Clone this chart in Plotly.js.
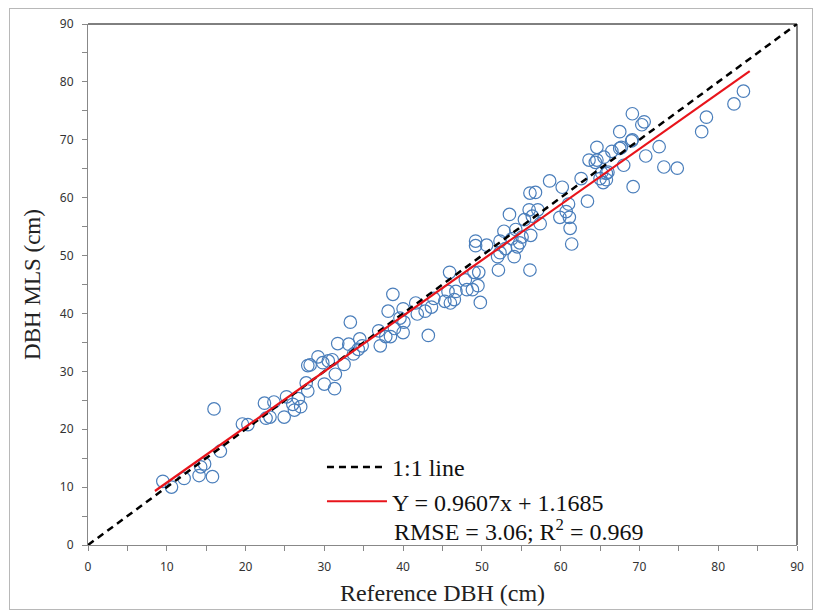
<!DOCTYPE html>
<html><head><meta charset="utf-8">
<script src="https://cdn.plot.ly/plotly-3.0.1.min.js"></script>
<style>
body{margin:0;background:#fff}
#frame{position:absolute;left:9px;top:8px;width:802px;height:600px;border:1px solid #b8b8b8}
#chart{position:absolute;left:0;top:0;width:814px;height:611px}
</style>
</head><body><div id="frame"></div><div id="chart"></div>
<script>
// Reference DBH (cm)
const refDBH = [9.5,10.6,12.2,14.1,14.8,14.3,15.8,16.0,16.8,19.6,20.3,22.4,22.6,23.1,23.6,24.9,25.2,26.0,26.2,27.0,26.7,27.7,27.9,27.9,28.2,29.2,29.8,30.0,30.5,31.0,31.3,31.4,31.7,32.5,33.3,33.1,33.7,34.3,34.5,34.8,36.9,37.1,37.8,38.1,38.4,38.7,38.9,39.6,40.0,40.0,40.1,41.6,41.8,42.8,43.2,43.6,43.9,45.3,45.7,45.9,46.0,46.5,46.7,47.9,48.1,48.8,49.0,49.2,49.2,49.5,49.6,49.8,50.6,52.1,52.0,52.3,52.3,52.8,53.0,53.5,53.8,54.1,54.3,54.5,54.8,55.1,55.4,56.0,56.1,56.1,56.2,56.4,56.8,57.1,57.4,58.6,60.2,59.9,60.7,61.1,61.0,61.2,61.4,62.6,63.4,63.6,64.4,64.6,65.2,65.4,65.5,65.8,66.0,66.5,67.5,67.7,68.0,69.1,69.1,69.2,70.3,70.6,70.8,72.5,73.1,74.8,77.9,78.5,82.0,83.2,64.6,65.0,65.8,67.5,69.0];
// DBH MLS (cm)
const mlsDBH = [11.0,10.0,11.5,12.0,14.0,13.5,11.8,23.5,16.2,20.9,20.8,24.5,21.9,22.1,24.7,22.1,25.6,24.3,23.3,23.9,25.3,28.0,26.6,31.0,31.1,32.5,31.5,27.8,31.8,32.0,27.0,29.5,34.8,31.2,38.5,34.7,33.0,33.8,35.6,34.4,37.0,34.4,36.0,40.4,36.0,43.3,37.4,39.2,40.8,36.7,38.5,41.8,39.9,40.4,36.2,41.1,42.6,42.1,43.8,47.1,41.8,42.4,43.8,45.8,44.1,44.1,47.1,52.5,51.7,44.8,47.1,41.9,51.8,47.5,49.8,50.5,52.5,54.2,51.2,57.1,52.9,49.8,54.5,51.5,52.2,53.2,56.2,57.9,47.5,60.8,53.5,56.8,60.9,57.9,55.5,62.9,61.8,56.6,57.6,56.6,58.9,54.7,52.0,63.3,59.4,66.5,66.1,68.7,64.3,62.6,67.0,63.1,64.4,68.0,71.4,68.7,65.6,74.5,70.0,61.9,72.6,73.1,67.2,68.8,65.3,65.1,71.4,73.9,76.2,78.4,66.5,63.3,64.2,68.5,69.8];
// 1:1 line
const oneX = [0, 90];
const oneY = [0, 90];
// fitted line Y = 0.9607x + 1.1685
const fitX = [8.5, 84.0];
const fitY = [9.33, 81.87];
const names = ['1:1 line', 'Y = 0.9607x + 1.1685'];
const statsText = 'RMSE = 3.06; R<sup>2</sup> = 0.969';
const xTitle = 'Reference DBH (cm)';
const yTitle = 'DBH MLS (cm)';

const serif = 'Liberation Serif, Times New Roman, serif';
const sans = 'Noto Sans, Open Sans, sans-serif';

const traces = [
  {x: refDBH, y: mlsDBH, type: 'scatter', mode: 'markers', showlegend: false, hoverinfo: 'x+y',
   marker: {symbol: 'circle-open', size: 12.5, color: '#4a7ebb', line: {width: 1.2, color: '#4a7ebb'}}},
  {x: oneX, y: oneY, type: 'scatter', mode: 'lines', name: names[0],
   line: {color: '#000', width: 2.5, dash: '7px,5px'}},
  {x: fitX, y: fitY, type: 'scatter', mode: 'lines', name: names[1],
   line: {color: '#e8141b', width: 2.2}}
];

const axBase = {
  range: [0, 90], dtick: 10, tick0: 0, ticks: 'outside', ticklen: 5, tickwidth: 1, tickcolor: '#888',
  showline: true, linecolor: '#888', linewidth: 1, showgrid: false, zeroline: false, mirror: false,
  tickfont: {family: sans, size: 12, color: '#333'},
  minor: {dtick: 5, tick0: 0, ticks: 'outside', ticklen: 5, tickcolor: '#888', showgrid: false}
};

const layout = {
  width: 814, height: 611,
  margin: {l: 88, r: 17, t: 24, b: 66},
  paper_bgcolor: 'rgba(0,0,0,0)', plot_bgcolor: '#fff',
  showlegend: true,
  xaxis: Object.assign({}, axBase, {ticklabelstandoff: 6,
    title: {text: xTitle, font: {family: serif, size: 24, color: '#222'}, standoff: 9}}),
  yaxis: Object.assign({}, axBase, {ticklabelstandoff: 6,
    title: {text: yTitle, font: {family: serif, size: 23, color: '#222'}, standoff: 12}}),
  legend: {x: 0.33, y: 0.192, xanchor: 'left', yanchor: 'top', bgcolor: 'rgba(0,0,0,0)',
    itemwidth: 60, font: {family: serif, size: 24, color: '#111'}, tracegroupgap: 0},
  annotations: [{xref: 'paper', yref: 'paper', x: 0.429, y: 0.028, xanchor: 'left', yanchor: 'middle',
    showarrow: false, text: statsText, font: {family: serif, size: 24, color: '#111'}}],
  shapes: [
    {type: 'line', xref: 'paper', yref: 'paper', x0: 0, x1: 1, y0: 1, y1: 1, line: {color: '#000', width: 1}},
    {type: 'line', xref: 'paper', yref: 'paper', x0: 1, x1: 1, y0: 0, y1: 1, line: {color: '#000', width: 1}}
  ]
};

Plotly.newPlot('chart', traces, layout, {displayModeBar: false, staticPlot: true});
</script>
</body></html>
